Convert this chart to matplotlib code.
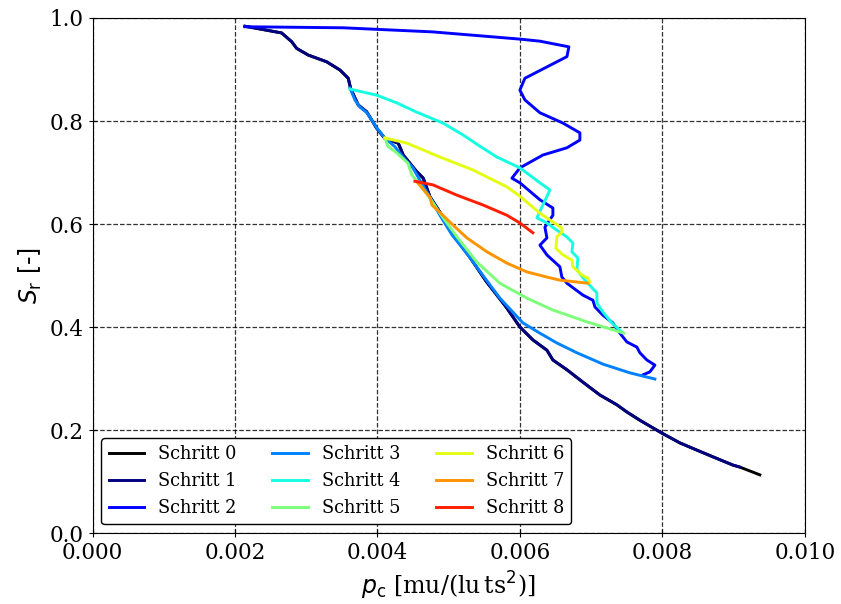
import matplotlib
matplotlib.use("Agg")
import matplotlib.pyplot as plt
import numpy as np

plt.rcParams['font.family'] = ['DejaVu Serif']
plt.rcParams['mathtext.fontset'] = 'dejavusans'

labels = ["Schritt %d" % i for i in range(9)]

# p_c values in units of 1e-3, S_r values
s1_x = [2.140, 2.655, 2.796, 2.866, 3.029, 3.287, 3.474, 3.590, 3.624, 3.731, 3.848, 3.989,
        4.105, 4.292, 4.362, 4.550, 4.643, 4.737, 4.900, 5.060, 5.300, 5.530, 5.800, 6.000,
        6.182, 6.379, 6.463, 6.660, 6.884, 7.123, 7.361, 7.502, 7.684, 7.993, 8.246, 8.484,
        8.709, 8.989, 9.088]
s1_y = [0.984, 0.971, 0.954, 0.941, 0.928, 0.915, 0.899, 0.883, 0.863, 0.831, 0.818, 0.786,
        0.766, 0.757, 0.734, 0.702, 0.689, 0.653, 0.618, 0.580, 0.535, 0.488, 0.440, 0.400,
        0.375, 0.355, 0.336, 0.317, 0.293, 0.268, 0.249, 0.235, 0.219, 0.194, 0.175, 0.161,
        0.148, 0.132, 0.128]

s0_x = s1_x + [9.368]
s0_y = s1_y + [0.113]

s2_x = [2.140, 3.516, 4.779, 6.000, 6.281, 6.688, 6.660, 6.379, 6.070, 6.000, 6.070, 6.281,
        6.604, 6.842, 6.842, 6.660, 6.323, 6.000, 5.888, 6.000, 6.281, 6.463, 6.463, 6.351,
        6.379, 6.281, 6.379, 6.561, 6.589, 6.660, 6.884, 7.025, 7.053, 7.165, 7.305, 7.404,
        7.502, 7.642, 7.684, 7.782, 7.895, 7.825, 7.726]
s2_y = [0.983, 0.981, 0.973, 0.959, 0.955, 0.944, 0.925, 0.905, 0.883, 0.860, 0.841, 0.816,
        0.796, 0.777, 0.763, 0.748, 0.734, 0.709, 0.689, 0.680, 0.647, 0.631, 0.617, 0.594,
        0.573, 0.559, 0.540, 0.517, 0.497, 0.485, 0.462, 0.452, 0.439, 0.423, 0.408, 0.388,
        0.371, 0.361, 0.350, 0.336, 0.326, 0.313, 0.307]

s3_x = [3.614, 3.684, 3.754, 3.853, 3.993, 4.105, 4.246, 4.358, 4.498, 4.596, 4.737, 4.877,
        5.046, 5.270, 5.509, 5.719, 6.042, 6.281, 6.519, 6.800, 7.165, 7.544, 7.895]
s3_y = [0.864, 0.841, 0.827, 0.816, 0.786, 0.767, 0.750, 0.730, 0.709, 0.685, 0.652, 0.617,
        0.579, 0.540, 0.495, 0.456, 0.408, 0.388, 0.369, 0.350, 0.328, 0.311, 0.299]

s4_x = [3.614, 3.993, 4.274, 4.554, 4.919, 5.200, 5.439, 5.677, 6.000, 6.281, 6.421, 6.323,
        6.239, 6.379, 6.519, 6.660, 6.744, 6.730, 6.814, 6.800, 6.912, 7.081, 7.081, 7.165,
        7.291, 7.432]
s4_y = [0.862, 0.850, 0.835, 0.817, 0.796, 0.773, 0.751, 0.730, 0.709, 0.680, 0.666, 0.637,
        0.612, 0.602, 0.588, 0.575, 0.563, 0.546, 0.534, 0.511, 0.491, 0.466, 0.447, 0.429,
        0.408, 0.390]

s5_x = [4.105, 4.147, 4.274, 4.428, 4.484, 4.596, 4.737, 4.877, 5.116, 5.396, 5.719, 6.098,
        6.463, 6.940, 7.460]
s5_y = [0.767, 0.751, 0.738, 0.718, 0.695, 0.676, 0.650, 0.621, 0.575, 0.526, 0.485, 0.456,
        0.433, 0.410, 0.388]

s6_x = [4.105, 4.414, 4.877, 5.340, 5.818, 6.000, 6.281, 6.463, 6.589, 6.589, 6.519, 6.505,
        6.604, 6.730, 6.744, 6.870, 6.954, 6.982]
s6_y = [0.767, 0.757, 0.730, 0.705, 0.672, 0.654, 0.621, 0.604, 0.592, 0.584, 0.575, 0.553,
        0.540, 0.530, 0.517, 0.501, 0.495, 0.487]

s7_x = [4.554, 4.737, 4.765, 4.919, 5.060, 5.256, 5.537, 5.818, 6.098, 6.379, 6.561, 6.954]
s7_y = [0.682, 0.652, 0.637, 0.617, 0.598, 0.573, 0.546, 0.524, 0.507, 0.497, 0.491, 0.485]

s8_x = [4.526, 4.779, 5.116, 5.481, 5.818, 6.000, 6.182]
s8_y = [0.683, 0.676, 0.656, 0.637, 0.617, 0.602, 0.583]

series = [(s0_x, s0_y), (s1_x, s1_y), (s2_x, s2_y), (s3_x, s3_y), (s4_x, s4_y),
          (s5_x, s5_y), (s6_x, s6_y), (s7_x, s7_y), (s8_x, s8_y)]

cmap = plt.get_cmap('jet')
colors = ['black'] + [cmap(i / 8) for i in range(8)]

fig = plt.figure(figsize=(8.41, 6.04), dpi=100)
ax = fig.add_axes([0.110, 0.1175, 0.847, 0.8527])

for (xs, ys), c, lab in zip(series, colors, labels):
    ax.plot(np.array(xs) * 1e-3, ys, color=c, lw=2.1, label=lab)

ax.set_xlim(0, 0.010)
ax.set_ylim(0, 1.0)
ax.set_xticks(np.arange(0, 0.0101, 0.002))
ax.set_yticks(np.arange(0, 1.01, 0.2))
ax.xaxis.set_major_formatter(matplotlib.ticker.FormatStrFormatter('%.3f'))
ax.yaxis.set_major_formatter(matplotlib.ticker.FormatStrFormatter('%.1f'))
ax.tick_params(direction='inout', length=6, labelsize=15.5, colors='black')
ax.grid(True, linestyle='--', color='black', lw=0.9, alpha=0.8)
for s in ax.spines.values():
    s.set_color('black')

ax.set_xlabel(r'$p_\mathrm{c}$ [mu/(lu$\,$ts$^2$)]', fontsize=17)
ax.set_ylabel(r'$S_\mathrm{r}$ [-]', fontsize=17, family='DejaVu Sans')

leg = ax.legend(ncol=3, loc='lower left', fontsize=12.8, framealpha=1, edgecolor='black',
                handlelength=2.0)

fig.savefig('out.png', dpi=100)
